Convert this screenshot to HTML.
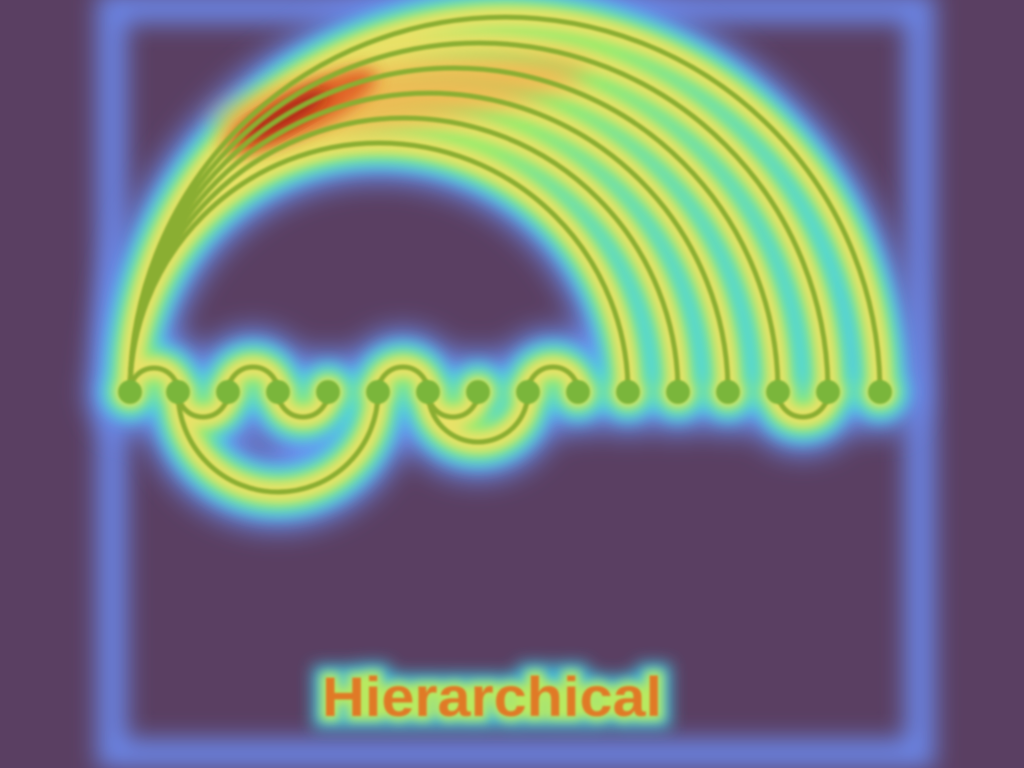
<!DOCTYPE html>
<html><head><meta charset="utf-8"><style>
html,body{margin:0;padding:0;background:#5a3f62;}
svg{display:block}
</style></head><body>
<svg width="1024" height="768" viewBox="0 0 1024 768">
<defs>
<filter id="b20" x="-50%" y="-50%" width="200%" height="200%"><feGaussianBlur stdDeviation="14"/></filter>
<filter id="b12" x="-50%" y="-50%" width="200%" height="200%"><feGaussianBlur stdDeviation="12"/></filter>
<filter id="b8" x="-50%" y="-50%" width="200%" height="200%"><feGaussianBlur stdDeviation="8"/></filter>
<filter id="b4" x="-50%" y="-50%" width="200%" height="200%"><feGaussianBlur stdDeviation="5"/></filter>
<filter id="b1"><feGaussianBlur stdDeviation="1"/></filter>
</defs>
<rect width="1024" height="768" fill="#5a3f62"/>
<rect x="112" y="8" width="808" height="746" fill="none" stroke="#6a84e4" stroke-width="30" filter="url(#b12)"/>
<g id="glow1" filter="url(#b20)"></g>
<g id="glow2" filter="url(#b8)"></g>
<g id="glow3" filter="url(#b8)"></g>
<g id="glow4" filter="url(#b4)"></g>
<ellipse cx="400" cy="95" rx="190" ry="30" transform="rotate(-8 400 95)" fill="#f0b050" filter="url(#b12)" opacity="0.75"/>
<ellipse cx="300" cy="112" rx="85" ry="22" transform="rotate(-27 300 112)" fill="#e05a20" filter="url(#b8)" opacity="0.9"/>
<ellipse cx="285" cy="115" rx="50" ry="11" transform="rotate(-30 285 115)" fill="#a01810" filter="url(#b8)" opacity="0.85"/>
<g id="lines" filter="url(#b1)"></g>
<g id="nodes" filter="url(#b1)"></g>
<text x="492" y="716" text-anchor="middle" textLength="340" lengthAdjust="spacingAndGlyphs" font-family="Liberation Sans, sans-serif" font-weight="bold" font-size="56" fill="#3fd0f0" stroke="#3fd0f0" stroke-width="24" filter="url(#b8)" opacity="0.9">Hierarchical</text>
<text x="492" y="716" text-anchor="middle" textLength="340" lengthAdjust="spacingAndGlyphs" font-family="Liberation Sans, sans-serif" font-weight="bold" font-size="56" fill="#b8ea60" stroke="#b8ea60" stroke-width="10" filter="url(#b4)">Hierarchical</text>
<text x="492" y="716" text-anchor="middle" textLength="340" lengthAdjust="spacingAndGlyphs" font-family="Liberation Sans, sans-serif" font-weight="bold" font-size="56" fill="#e07a28" filter="url(#b1)">Hierarchical</text>
</svg>
<script>
const nodeX = [130,178,228,278,328,378,428,478,528,578,628,678,728,778,828,880];
const linksAbove = [[0,15],[0,14],[0,13],[0,12],[0,11],[0,10],[0,1],[2,3],[5,6],[8,9]];
const linksBelow = [[1,2],[3,4],[6,7],[13,14],[1,5],[6,8]];
const baseY = 392;
const NS='http://www.w3.org/2000/svg';
function arcPath(a,b,up){
  const x1=nodeX[a],x2=nodeX[b],r=(x2-x1)/2;
  return `M${x1},${baseY} A${r},${r} 0 0 ${up?1:0} ${x2},${baseY}`;
}
const layers=[['glow1','#6c8ef0',74],['glow2','#40d0f0',50],['glow3','#98ec6c',34],['glow4','#e8e268',20]];
const all=linksAbove.map(l=>[l,true]).concat(linksBelow.map(l=>[l,false]));
layers.forEach(([id,c,w])=>{
  const g=document.getElementById(id);
  all.forEach(([l,up])=>{
    const p=document.createElementNS(NS,'path');
    p.setAttribute('d',arcPath(l[0],l[1],up));
    p.setAttribute('fill','none');p.setAttribute('stroke',c);p.setAttribute('stroke-width',w);
    g.appendChild(p);
  });
  nodeX.forEach(x=>{
    const ci=document.createElementNS(NS,'circle');
    ci.setAttribute('cx',x);ci.setAttribute('cy',baseY);ci.setAttribute('r',w/2+4);ci.setAttribute('fill',c);
    g.appendChild(ci);
  });
});
const lg=document.getElementById('lines');
all.forEach(([l,up])=>{
  const p=document.createElementNS(NS,'path');
  p.setAttribute('d',arcPath(l[0],l[1],up));
  p.setAttribute('fill','none');p.setAttribute('stroke','#8aae30');p.setAttribute('stroke-width',5);
  
  
  lg.appendChild(p);
});
const ng=document.getElementById('nodes');
nodeX.forEach(x=>{
  const c=document.createElementNS(NS,'circle');
  c.setAttribute('cx',x);c.setAttribute('cy',baseY);c.setAttribute('r',12);c.setAttribute('fill','#7ab63a');
  
  
  ng.appendChild(c);
});
</script>
</body></html>
